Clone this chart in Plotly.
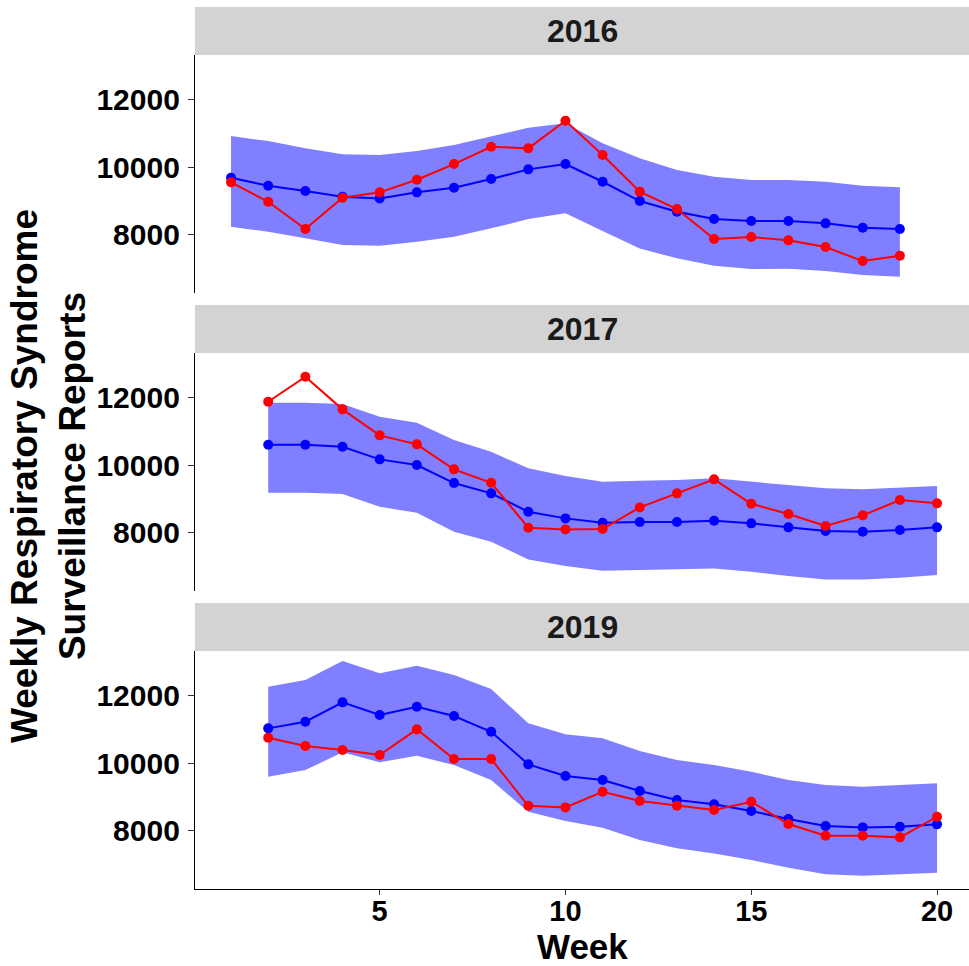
import plotly.graph_objects as go

# ---- data -------------------------------------------------------------
years = ["2016", "2017", "2019"]

weeks_2016 = list(range(1, 20))
weeks_2017 = list(range(2, 21))
weeks_2019 = list(range(2, 21))

observed_2016 = [9548, 8975, 8168, 9093, 9253, 9625, 10089, 10600, 10552, 11368,
                 10355, 9270, 8759, 7873, 7932, 7835, 7637, 7223, 7380]
predicted_2016 = [9684, 9448, 9291, 9123, 9075, 9253, 9389, 9645, 9932, 10089,
                  9566, 8996, 8680, 8464, 8405, 8405, 8337, 8207, 8168]
upper_2016 = [10916, 10768, 10552, 10375, 10355, 10473, 10650, 10895, 11161, 11291,
              10700, 10257, 9911, 9713, 9616, 9616, 9566, 9448, 9400]
lower_2016 = [8236, 8089, 7894, 7696, 7675, 7793, 7941, 8189, 8464, 8632,
              8109, 7598, 7303, 7084, 6987, 6996, 6928, 6810, 6759]

observed_2017 = [11870, 12609, 11645, 10877, 10611, 9873, 9477, 8148, 8100,
                 8109, 8750, 9164, 9578, 8857, 8553, 8198, 8514, 8966, 8869]
predicted_2017 = [10600, 10600, 10541, 10168, 10000, 9468, 9164, 8620, 8425,
                  8295, 8316, 8316, 8355, 8278, 8160, 8050, 8030, 8080, 8160]
upper_2017 = [11840, 11840, 11802, 11427, 11250, 10739, 10393, 9903, 9675,
              9507, 9536, 9557, 9607, 9507, 9409, 9312, 9282, 9330, 9380]
lower_2017 = [9182, 9182, 9143, 8768, 8591, 8030, 7734, 7214, 7016,
              6877, 6897, 6919, 6948, 6848, 6721, 6623, 6623, 6671, 6750]

observed_2019 = [10747, 10502, 10384, 10236, 10996, 10118, 10118, 8739, 8691,
                 9152, 8877, 8739, 8612, 8857, 8198, 7852, 7852, 7805, 8414]
predicted_2019 = [11025, 11220, 11793, 11418, 11663, 11388, 10925, 9962, 9616,
                  9498, 9173, 8907, 8780, 8582, 8346, 8139, 8100, 8118, 8189]
upper_2019 = [12254, 12452, 13013, 12650, 12874, 12600, 12186, 11173, 10848,
              10730, 10355, 10089, 9941, 9743, 9498, 9350, 9300, 9350, 9400]
lower_2019 = [9595, 9793, 10316, 10021, 10216, 9941, 9498, 8561, 8287,
              8089, 7725, 7480, 7332, 7134, 6907, 6712, 6671, 6712, 6759]

x_ticks = [5, 10, 15, 20]
y_ticks = [8000, 10000, 12000]
y_tick_labels = ["8000", "10000", "12000"]

panels = [
    (weeks_2016, observed_2016, predicted_2016, upper_2016, lower_2016),
    (weeks_2017, observed_2017, predicted_2017, upper_2017, lower_2017),
    (weeks_2019, observed_2019, predicted_2019, upper_2019, lower_2019),
]

# ---- layout geometry (pixels) ----------------------------------------
W, H = 969, 966
LEFT = 195
panel_px = [(55, 293), (353, 591), (651, 889)]   # top, bottom of plot areas
strip_h = 48

def py(p):
    return 1 - p / H

FONT = "Liberation Sans, Arial, Helvetica, sans-serif"
band_color = "rgba(0,0,255,0.5)"

fig = go.Figure()

for i, (wk, obs, pred, up, lo) in enumerate(panels):
    ax = "" if i == 0 else str(i + 1)
    xref, yref = "x" + ax, "y" + ax
    # prediction interval ribbon
    fig.add_trace(go.Scatter(
        x=wk + wk[::-1], y=up + lo[::-1], fill="toself", fillcolor=band_color,
        line=dict(width=0), mode="lines", hoverinfo="skip", showlegend=False,
        xaxis=xref, yaxis=yref))
    # expected counts
    fig.add_trace(go.Scatter(
        x=wk, y=pred, mode="lines+markers", line=dict(color="#0000FF", width=2),
        marker=dict(color="#0000FF", size=10), showlegend=False,
        xaxis=xref, yaxis=yref))
    # observed counts
    fig.add_trace(go.Scatter(
        x=wk, y=obs, mode="lines+markers", line=dict(color="#FF0000", width=2),
        marker=dict(color="#FF0000", size=10), showlegend=False,
        xaxis=xref, yaxis=yref))

tick_font = dict(family=FONT, size=30, color="black", weight="bold")

layout = dict(
    width=W, height=H, margin=dict(l=0, r=0, t=0, b=0),
    paper_bgcolor="white", plot_bgcolor="white", showlegend=False,
)

for i, (top, bot) in enumerate(panel_px):
    ax = "" if i == 0 else str(i + 1)
    bottom = i == 2
    layout["xaxis" + ax] = dict(
        domain=[LEFT / W, 1], range=[0.03, 20.86], anchor="y" + ax,
        tickmode="array", tickvals=x_ticks, ticktext=[str(t) for t in x_ticks],
        showgrid=False, zeroline=False,
        showline=bottom, linecolor="black", linewidth=1.3,
        ticks="outside" if bottom else "", ticklen=5, tickwidth=1.3,
        tickcolor="#333333", showticklabels=bottom,
        tickfont=dict(tick_font, size=29),
        ticklabelstandoff=-9,
    )
    layout["yaxis" + ax] = dict(
        domain=[py(bot), py(top)], range=[6280, 13310], anchor="x" + ax,
        tickmode="array", tickvals=y_ticks, ticktext=y_tick_labels,
        showgrid=False, zeroline=False,
        showline=True, linecolor="black", linewidth=1.3,
        ticks="outside", ticklen=6, tickwidth=1.3, tickcolor="#333333",
        tickfont=tick_font, ticklabelstandoff=2,
    )

shapes = []
annotations = []
for i, (top, bot) in enumerate(panel_px):
    shapes.append(dict(type="rect", xref="paper", yref="paper",
                       x0=LEFT / W, x1=1, y0=py(top), y1=py(top - strip_h),
                       fillcolor="#D3D3D3", line=dict(width=0), layer="below"))
    annotations.append(dict(text=years[i], xref="paper", yref="paper",
                            x=(LEFT + W) / 2 / W, y=py(top - strip_h / 2),
                            showarrow=False, xanchor="center", yanchor="middle",
                            font=dict(family=FONT, size=32, color="#1a1a1a",
                                      weight="bold")))

title_font = dict(family=FONT, size=36, color="black", weight="bold")
annotations.append(dict(text="Week", xref="paper", yref="paper",
                        x=(LEFT + W) / 2 / W, y=py(946), showarrow=False,
                        xanchor="center", yanchor="middle",
                        font=dict(title_font, size=35)))
annotations.append(dict(text="Weekly Respiratory Syndrome<br>Surveillance Reports",
                        xref="paper", yref="paper", x=49 / W, y=py(476),
                        showarrow=False, textangle=-90, xanchor="center",
                        yanchor="middle", font=dict(title_font, size=37)))

layout["shapes"] = shapes
layout["annotations"] = annotations
fig.update_layout(**layout)

fig.write_html("out.html")
